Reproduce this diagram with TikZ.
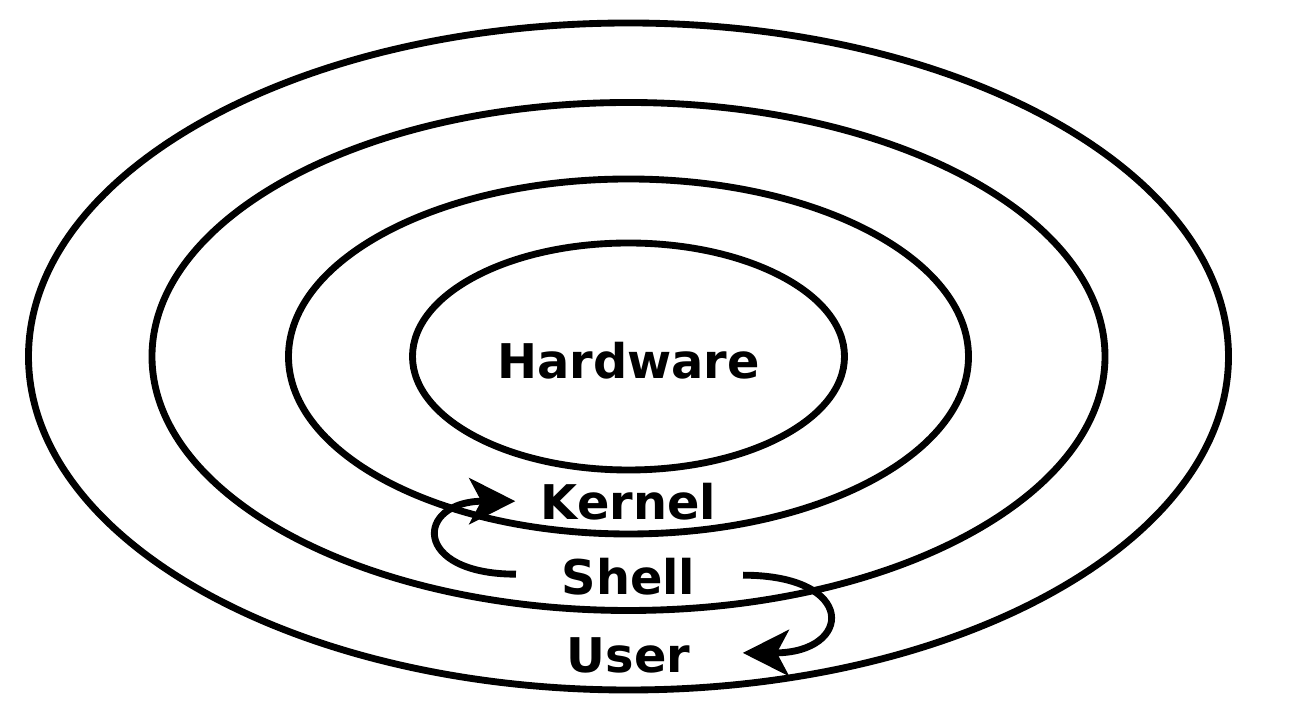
\documentclass[tikz,border=0pt]{standalone}
\usepackage{fontspec}
\setsansfont{DejaVu Sans}
\usetikzlibrary{arrows.meta}

\tikzset{
  layer/.style={draw=black, line width=1.95pt},
  lbl/.style={font=\sffamily\bfseries\fontsize{13.6}{16}\selectfont, inner sep=0pt, anchor=base},
  flow/.style={line width=1.95pt, -{Stealth[length=0.46cm, width=0.46cm, inset=0.12cm]}}
}

\begin{document}
\begin{tikzpicture}
            \useasboundingbox (-6.285,-3.575) rectangle (6.715,3.565);

            \draw[layer] (0,0) ellipse [x radius=6.000, y radius=3.335];
            \draw[layer] (0,0) ellipse [x radius=4.765, y radius=2.540];
            \draw[layer] (0,0) ellipse [x radius=3.400, y radius=1.775];
            \draw[layer] (0,0) ellipse [x radius=2.160, y radius=1.135];

            \node[lbl] (hw)     at (0.00,-0.225) {Hardware};
            \node[lbl] (kernel) at (0.00,-1.635) {Kernel};
            \node[lbl] (shell)  at (0.00,-2.385) {Shell};
            \node[lbl] (user)   at (0.00,-3.165) {User};

            \draw[flow] ([xshift=-0.45cm,yshift=0.03cm]shell.west)
              .. controls +(-1.05,0) and +(-1.00,0) .. ([xshift=-0.25cm,yshift=0.01cm]kernel.west);
            \draw[flow] ([xshift=0.47cm,yshift=0.02cm]shell.east)
              .. controls +(1.15,0) and +(1.10,0) .. ([xshift=0.52cm,yshift=0.03cm]user.east);
          \end{tikzpicture}
\end{document}
